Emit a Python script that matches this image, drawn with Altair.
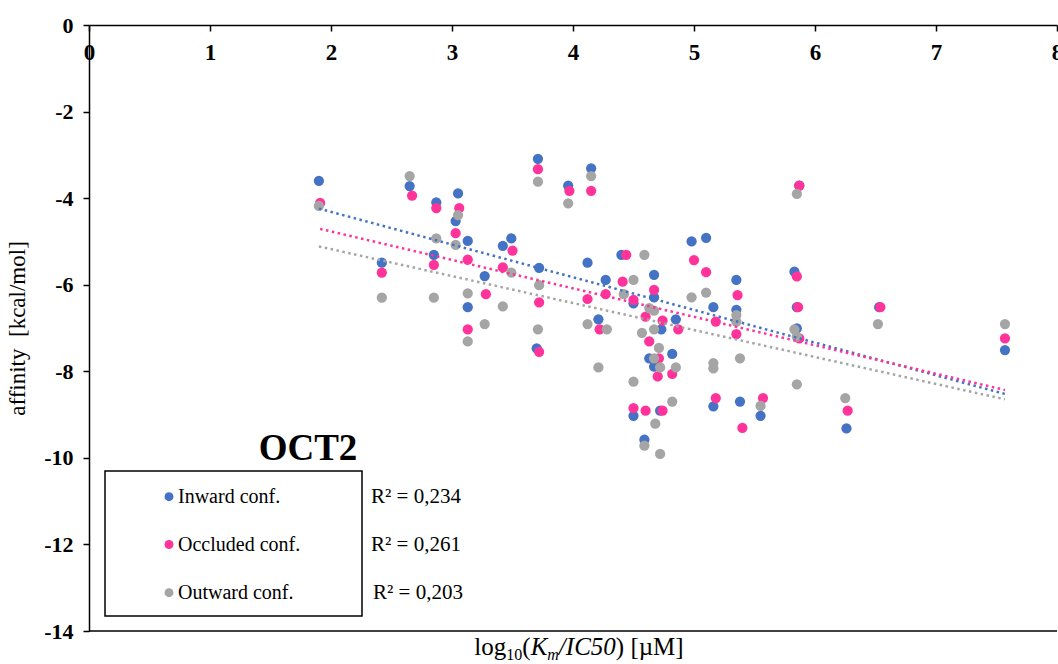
import altair as alt
import pandas as pd

# ---------------- data ----------------
series_names = ["Inward conf.", "Occluded conf.", "Outward conf."]
series_colors = ["#4472C4", "#FF3399", "#A5A5A5"]
r2_labels = ["R² = 0,234", "R² = 0,261", "R² = 0,203"]
chart_title = "OCT2"
x_ticks = [0, 1, 2, 3, 4, 5, 6, 7, 8]
y_ticks = [0, -2, -4, -6, -8, -10, -12, -14]

inward_x = [1.90, 2.42, 2.65, 2.87, 2.85, 3.05, 3.03, 3.13, 3.13, 3.27, 3.42, 3.49, 3.71, 3.72, 3.70,
            3.96, 4.15, 4.12, 4.21, 4.27, 4.40, 4.50, 4.50, 4.59, 4.63, 4.67, 4.67, 4.67, 4.73, 4.72,
            4.85, 4.82, 4.98, 5.10, 5.16, 5.16, 5.35, 5.35, 5.38, 5.55, 5.83, 5.85, 5.85, 5.87, 6.26,
            6.53, 7.57]
inward_y = [-3.60, -5.49, -3.72, -4.10, -5.31, -3.89, -4.53, -4.99, -6.52, -5.80, -5.10, -4.93, -3.09, -5.61, -7.47,
            -3.71, -3.31, -5.49, -6.80, -5.89, -5.31, -6.43, -9.03, -9.58, -7.70, -5.77, -6.29, -7.89, -7.03, -8.91,
            -6.80, -7.60, -5.00, -4.92, -6.52, -8.81, -5.89, -6.58, -8.70, -9.03, -5.70, -6.52, -7.01, -3.71, -9.32,
            -6.52, -7.51]

occluded_x = [1.91, 2.42, 2.67, 2.87, 2.85, 3.06, 3.03, 3.13, 3.13, 3.28, 3.42, 3.50, 3.71, 3.72, 3.72,
              3.97, 4.15, 4.12, 4.22, 4.27, 4.44, 4.41, 4.50, 4.67, 4.60, 4.74, 4.87, 4.63, 4.71, 4.70,
              4.82, 4.50, 4.60, 4.74, 5.00, 5.10, 5.18, 5.18, 5.36, 5.35, 5.40, 5.57, 5.87, 5.85, 5.86,
              5.87, 6.27, 6.54, 7.57]
occluded_y = [-4.11, -5.72, -3.94, -4.23, -5.54, -4.23, -4.81, -5.42, -7.03, -6.22, -5.60, -5.21, -3.33, -6.41, -7.55,
              -3.83, -3.83, -6.33, -7.03, -6.22, -5.31, -5.93, -6.35, -6.12, -6.74, -6.83, -7.03, -7.31, -7.70, -8.12,
              -8.06, -8.85, -8.91, -8.91, -5.43, -5.71, -6.85, -8.62, -6.24, -7.14, -9.31, -8.62, -3.71, -5.81, -6.52,
              -7.24, -8.91, -6.52, -7.24]

outward_x = [1.90, 2.42, 2.65, 2.87, 2.85, 3.05, 3.03, 3.13, 3.13, 3.27, 3.42, 3.49, 3.71, 3.72, 3.71,
             3.96, 4.15, 4.12, 4.21, 4.28, 4.59, 4.50, 4.42, 4.63, 4.67, 4.67, 4.57, 4.71, 4.67, 4.72,
             4.85, 4.50, 4.82, 4.68, 4.59, 4.72, 4.98, 5.10, 5.16, 5.16, 5.35, 5.35, 5.38, 5.55, 5.85,
             5.83, 5.85, 5.85, 6.25, 6.52, 7.57]
outward_y = [-4.18, -6.30, -3.49, -4.93, -6.30, -4.39, -5.08, -6.20, -7.31, -6.91, -6.50, -5.72, -3.62, -6.01, -7.03,
             -4.12, -3.49, -6.91, -7.91, -7.03, -5.31, -5.89, -6.22, -6.54, -6.60, -7.03, -7.11, -7.46, -7.70, -7.91,
             -7.91, -8.24, -8.70, -9.21, -9.72, -9.91, -6.29, -6.18, -7.81, -7.93, -6.70, -6.85, -7.70, -8.80, -3.90,
             -7.03, -7.20, -8.30, -8.62, -6.91, -6.91]

rows = []
for name, xs, ys in zip(series_names,
                        [inward_x, occluded_x, outward_x],
                        [inward_y, occluded_y, outward_y]):
    for xv, yv in zip(xs, ys):
        rows.append({"series": name, "x": xv, "y": yv})
df = pd.DataFrame(rows)
one = pd.DataFrame({"k": [0]})

# ---------------- layout ----------------
SERIF = "Liberation Serif"
W, H = 968, 606

xscale = alt.Scale(domain=[0, 8], nice=False, zero=False)
yscale = alt.Scale(domain=[-14, 0], nice=False)
color = alt.Color("series:N", scale=alt.Scale(domain=series_names, range=series_colors), legend=None)

points = alt.Chart(df).mark_circle(size=105, opacity=1).encode(
    x=alt.X("x:Q", scale=xscale,
            axis=alt.Axis(orient="bottom", offset=-H, values=x_ticks, format="d", title=None, grid=False,
                          labelFont=SERIF, labelFontSize=23, labelFontWeight="bold", labelColor="black",
                          labelPadding=10, tickSize=6, tickColor="black", tickWidth=1.5,
                          domainColor="black", domainWidth=1.5, labelFlush=False)),
    y=alt.Y("y:Q", scale=yscale,
            axis=alt.Axis(values=y_ticks, title="affinity\u00a0 [kcal/mol]", grid=False,
                          labelExpr="datum.value == 0 ? '0' : '-' + abs(datum.value)",
                          labelFont=SERIF, labelFontSize=22, labelFontWeight="bold", labelColor="black",
                          labelPadding=10, tickSize=6, tickColor="black", tickWidth=1.5,
                          domainColor="black", domainWidth=1.5, labelFlush=False,
                          titleFont=SERIF, titleFontSize=23, titleFontWeight="normal", titleColor="black",
                          titleX=-72, titleY=H / 2, titleBaseline="middle", titleAngle=-90)),
    color=color,
)

trends = alt.Chart(df).transform_regression("x", "y", groupby=["series"]).mark_line(
    strokeDash=[2.5, 3.5], strokeWidth=2.5
).encode(x="x:Q", y="y:Q", color=color)

bottom_rule = alt.Chart(one).mark_rule(color="black", strokeWidth=1.5).encode(
    x=alt.value(0), x2=alt.value(W), y=alt.value(H)
)

box = alt.Chart(one).mark_rect(fill="white", stroke="black", strokeWidth=1.5).encode(
    x=alt.value(16), x2=alt.value(273), y=alt.value(446), y2=alt.value(591)
)

title_txt = alt.Chart(one).mark_text(font=SERIF, fontSize=37, fontWeight="bold", color="black",
                                     baseline="middle", align="center").encode(
    x=alt.value(219), y=alt.value(424), text=alt.value(chart_title)
)

legend_layers = []
row_y = [471.7, 519.5, 567.7]
for i, name in enumerate(series_names):
    legend_layers.append(alt.Chart(one).mark_circle(size=80, opacity=1).encode(
        x=alt.value(80), y=alt.value(row_y[i]), color=alt.value(series_colors[i])))
    legend_layers.append(alt.Chart(one).mark_text(font=SERIF, fontSize=20, color="black",
                                                  align="left", baseline="middle").encode(
        x=alt.value(89), y=alt.value(row_y[i]), text=alt.value(name)))
    legend_layers.append(alt.Chart(one).mark_text(font=SERIF, fontSize=21, color="black",
                                                  align="left", baseline="middle").encode(
        x=alt.value(282 + (2 if i == 2 else 0)), y=alt.value(row_y[i] + 0.5), text=alt.value(r2_labels[i])))

# x-axis title: log10(Km/IC50) [µM] built from pieces (regular / subscript / italic)
FS, SUB = 25, 16
# (text, size, style, baseline shift, approx em width incl. trailing space)
pieces = [
    ("log", FS, "normal", 0, 1.278),
    ("10", SUB, "normal", 5, 1.0),
    ("(", FS, "normal", 0, 0.333),
    ("K", FS, "italic", 0, 0.667),
    ("m", SUB, "italic", 5, 0.722),
    ("/IC50", FS, "italic", 0, 2.278),
    (")", FS, "normal", 0, 0.583),
    ("[µM]", FS, "normal", 0, 2.13),
]
total = sum(p[1] * p[4] for p in pieces)
cx = 490
x0 = cx - total / 2
title_layers = []
for txt, size, style, shift, em in pieces:
    title_layers.append(alt.Chart(one).mark_text(font=SERIF, fontSize=size, fontStyle=style, color="black",
                                                 align="left", baseline="alphabetic").encode(
        x=alt.value(x0), y=alt.value(630 + shift), text=alt.value(txt)))
    x0 += size * em

chart = alt.layer(
    points, trends, bottom_rule, box, title_txt, *legend_layers, *title_layers
).properties(
    width=W, height=H,
    padding={"left": 89, "top": 25, "right": 1, "bottom": 33},
    autosize=alt.AutoSizeParams(type="none"),
    background="white",
).configure_view(stroke=None)

chart.save("out.html", embed_options={"renderer": "svg", "actions": False})
